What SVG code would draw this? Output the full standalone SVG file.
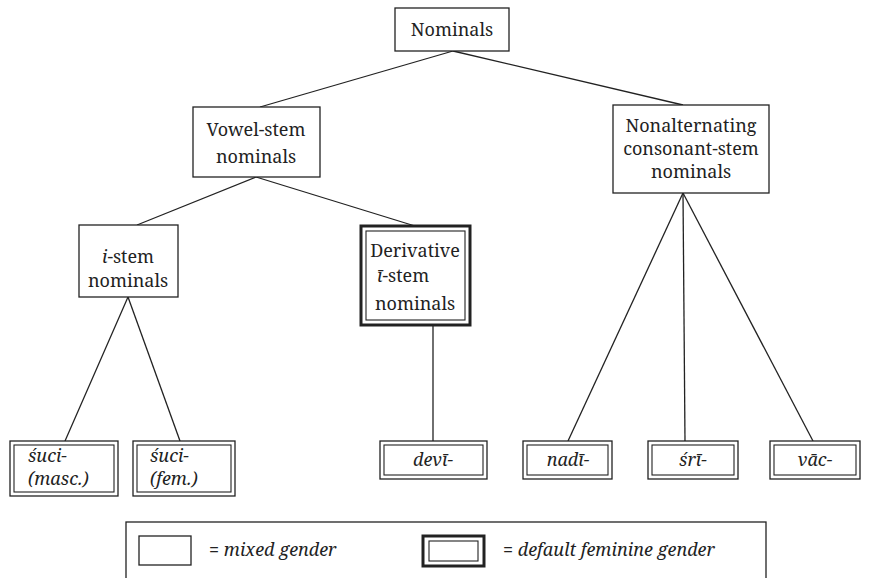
<svg xmlns="http://www.w3.org/2000/svg" width="872" height="578" viewBox="0 0 872 578">
  <style>
    text { font-family: "Noto Serif", "DejaVu Serif", serif; font-size: 18px; fill: #222; }
    .c { text-anchor: middle; }
    .it { font-style: italic; }
    .box { fill: #fff; stroke: #222; stroke-width: 1.3; }
    .thick { fill: #fff; stroke: #222; stroke-width: 3; }
    .thin { fill: none; stroke: #222; stroke-width: 1.1; }
    .edge { stroke: #222; stroke-width: 1.3; fill: none; }
  </style>
  <rect width="872" height="578" fill="#fff"/>

  <!-- connectors -->
  <g id="connectors">
    <line class="edge" x1="453" y1="51" x2="260" y2="107"/>
    <line class="edge" x1="453" y1="51" x2="683" y2="105"/>
    <line class="edge" x1="256" y1="177" x2="137" y2="225"/>
    <line class="edge" x1="256" y1="177" x2="415" y2="226"/>
    <line class="edge" x1="128" y1="297" x2="65" y2="441"/>
    <line class="edge" x1="128" y1="297" x2="180" y2="441"/>
    <line class="edge" x1="433" y1="325" x2="433" y2="441"/>
    <line class="edge" x1="683" y1="193" x2="568" y2="441"/>
    <line class="edge" x1="683" y1="193" x2="685" y2="441"/>
    <line class="edge" x1="683" y1="193" x2="813" y2="441"/>
  </g>

  <!-- tree nodes -->
  <g id="nominals">
    <rect class="box" x="395" y="8" width="114" height="43"/>
    <text class="c" x="452" y="36">Nominals</text>
  </g>
  <g id="vowel-stem">
    <rect class="box" x="193" y="107" width="127" height="70"/>
    <text class="c" x="256" y="136">Vowel-stem</text>
    <text class="c" x="256" y="163">nominals</text>
  </g>
  <g id="consonant-stem">
    <rect class="box" x="613" y="105" width="156" height="88"/>
    <text class="c" x="691" y="132">Nonalternating</text>
    <text class="c" x="691" y="155">consonant-stem</text>
    <text class="c" x="691" y="178">nominals</text>
  </g>
  <g id="i-stem">
    <rect class="box" x="79" y="225" width="99" height="72"/>
    <text class="c" x="128" y="263"><tspan class="it">i</tspan>-stem</text>
    <text class="c" x="128" y="287">nominals</text>
  </g>
  <g id="derivative">
    <rect class="thick" x="361" y="226" width="109" height="99"/>
    <rect class="thin" x="366" y="231" width="99" height="89"/>
    <text class="c" x="415" y="257">Derivative</text>
    <text x="377" y="282"><tspan class="it">ī</tspan>-stem</text>
    <text class="c" x="415" y="310">nominals</text>
  </g>

  <!-- leaves -->
  <g id="suci-masc">
    <rect class="box" x="10" y="441" width="108" height="55"/>
    <rect class="thin" x="14" y="445" width="100" height="47"/>
    <text class="it" x="28" y="462">śuci-</text>
    <text class="it" x="28" y="485">(masc.)</text>
  </g>
  <g id="suci-fem">
    <rect class="box" x="133" y="441" width="102" height="55"/>
    <rect class="thin" x="137" y="445" width="94" height="47"/>
    <text class="it" x="150" y="462">śuci-</text>
    <text class="it" x="150" y="485">(fem.)</text>
  </g>
  <g id="devi">
    <rect class="box" x="380" y="441" width="107" height="38"/>
    <rect class="thin" x="384" y="445" width="99" height="30"/>
    <text class="c it" x="433" y="466">devī-</text>
  </g>
  <g id="nadi">
    <rect class="box" x="523" y="441" width="89" height="38"/>
    <rect class="thin" x="527" y="445" width="81" height="30"/>
    <text class="c it" x="568" y="466">nadī-</text>
  </g>
  <g id="sri">
    <rect class="box" x="648" y="441" width="90" height="38"/>
    <rect class="thin" x="652" y="445" width="82" height="30"/>
    <text class="c it" x="693" y="466">śrī-</text>
  </g>
  <g id="vac">
    <rect class="box" x="770" y="441" width="90" height="38"/>
    <rect class="thin" x="774" y="445" width="82" height="30"/>
    <text class="c it" x="815" y="466">vāc-</text>
  </g>

  <!-- key -->
  <g id="legend">
    <rect class="box" x="126" y="522" width="640" height="80"/>
    <rect class="box" x="139" y="536" width="52" height="29"/>
    <text x="209" y="556">= <tspan class="it">mixed gender</tspan></text>
    <rect class="thick" x="423" y="536" width="61" height="30"/>
    <rect class="thin" x="429" y="541" width="49" height="20"/>
    <text x="503" y="556">= <tspan class="it">default feminine gender</tspan></text>
  </g>
</svg>
